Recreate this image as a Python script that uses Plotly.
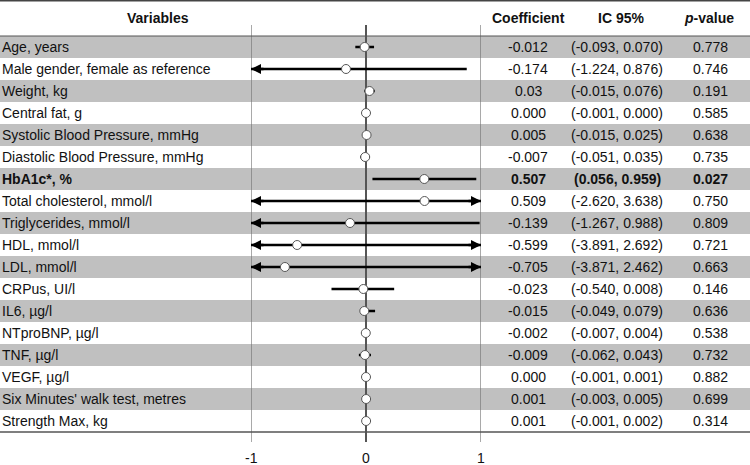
import plotly.graph_objects as go

# ---------------- data ----------------
variables = ["Age, years", "Male gender, female as reference", "Weight, kg", "Central fat, g",
             "Systolic Blood Pressure, mmHg", "Diastolic Blood Pressure, mmHg", "HbA1c*, %",
             "Total cholesterol, mmol/l", "Triglycerides, mmol/l", "HDL, mmol/l", "LDL, mmol/l",
             "CRPus, UI/l", "IL6, µg/l", "NTproBNP, µg/l", "TNF, µg/l", "VEGF, µg/l",
             "Six Minutes' walk test, metres", "Strength Max, kg"]
coefficient = [-0.012, -0.174, 0.03, 0.000, 0.005, -0.007, 0.507, 0.509, -0.139, -0.599,
               -0.705, -0.023, -0.015, -0.002, -0.009, 0.000, 0.001, 0.001]
coef_labels = ["-0.012", "-0.174", "0.03", "0.000", "0.005", "-0.007", "0.507", "0.509", "-0.139",
               "-0.599", "-0.705", "-0.023", "-0.015", "-0.002", "-0.009", "0.000", "0.001", "0.001"]
ci_labels = ["(-0.093, 0.070)", "(-1.224, 0.876)", "(-0.015, 0.076)", "(-0.001, 0.000)",
             "(-0.015, 0.025)", "(-0.051, 0.035)", "(0.056, 0.959)", "(-2.620, 3.638)",
             "(-1.267, 0.988)", "(-3.891, 2.692)", "(-3.871, 2.462)", "(-0.540, 0.008)",
             "(-0.049, 0.079)", "(-0.007, 0.004)", "(-0.062, 0.043)", "(-0.001, 0.001)",
             "(-0.003, 0.005)", "(-0.001, 0.002)"]
# CI bounds as drawn in the plot
ci_low = [-0.093, -1.224, -0.015, -0.001, -0.015, -0.051, 0.056, -2.620, -1.267, -3.891,
          -3.871, -0.30, -0.049, -0.007, -0.062, -0.001, -0.003, -0.001]
ci_high = [0.070, 0.876, 0.076, 0.000, 0.025, 0.035, 0.959, 3.638, 0.988, 2.692,
           2.462, 0.245, 0.079, 0.004, 0.043, 0.001, 0.005, 0.002]
p_values = ["0.778", "0.746", "0.191", "0.585", "0.638", "0.735", "0.027", "0.750", "0.809",
            "0.721", "0.663", "0.146", "0.636", "0.538", "0.732", "0.882", "0.699", "0.314"]
tick_values = [-1, 0, 1]
tick_labels = ["-1", "0", "1"]
headers = ["Variables", "Coefficient", "IC 95%", "<i>p</i>-value"]

# ---------------- layout constants ----------------
W, H = 750, 465
FONT = "Liberation Sans, Arial, sans-serif"
XMIN, XMAX = -1, 1
n = len(variables)
rows = list(range(n))
row_px0, row_h = 47.0, 22.0
y_top = -row_px0 / row_h
y_bot = (H - row_px0) / row_h

fig = go.Figure()

shapes = []
# alternating grey bands
for i in rows:
    if i % 2 == 0:
        shapes.append(dict(type="rect", xref="paper", yref="y", x0=0, x1=1,
                           y0=i - 0.5, y1=i + 0.5, fillcolor="#c0c0c0",
                           line=dict(width=0), layer="below"))
# vertical reference lines
for v in tick_values:
    shapes.append(dict(type="line", xref="x", yref="y", x0=v, x1=v,
                       y0=-1.0, y1=n - 0.5 + 0.45,
                       line=dict(color="#555555" if v == 0 else "#707070",
                                 width=2 if v == 0 else 1.2), layer="below"))
# horizontal rules
shapes.append(dict(type="line", xref="paper", yref="paper", x0=0, x1=1, y0=1 - 0.8 / H, y1=1 - 0.8 / H,
                   line=dict(color="#444444", width=1.6)))
shapes.append(dict(type="line", xref="paper", yref="y", x0=0, x1=1, y0=-0.5, y1=-0.5,
                   line=dict(color="#555555", width=1)))
shapes.append(dict(type="line", xref="paper", yref="y", x0=0, x1=1, y0=n - 0.5, y1=n - 0.5,
                   line=dict(color="#555555", width=1.6)))

# CI lines (clipped to axis range)
lx, ly = [], []
for i in rows:
    lx += [max(ci_low[i], XMIN), min(ci_high[i], XMAX), None]
    ly += [i, i, None]
fig.add_trace(go.Scatter(x=lx, y=ly, mode="lines", line=dict(color="black", width=2.5),
                         hoverinfo="skip", showlegend=False, cliponaxis=False))
# point estimates
fig.add_trace(go.Scatter(x=coefficient, y=rows, mode="markers",
                         marker=dict(size=9, color="white", line=dict(color="#555555", width=1)),
                         showlegend=False, cliponaxis=False))

annotations = []
# arrowheads for truncated CIs
for i in rows:
    if ci_low[i] < XMIN:
        annotations.append(dict(x=XMIN, y=i, xref="x", yref="y", ax=14, ay=0, text="",
                                showarrow=True, arrowhead=2, arrowsize=0.8, arrowwidth=2.5,
                                arrowcolor="black", standoff=0))
    if ci_high[i] > XMAX:
        annotations.append(dict(x=XMAX, y=i, xref="x", yref="y", ax=-14, ay=0, text="",
                                showarrow=True, arrowhead=2, arrowsize=0.8, arrowwidth=2.5,
                                arrowcolor="black", standoff=0))

font = dict(family=FONT, size=14, color="#111111")
# headers
header_x = [158, 528, 621, 709]
for hx, ht in zip(header_x, headers):
    annotations.append(dict(x=hx / W, y=-1.3, xref="paper", yref="y", text="<b>" + ht + "</b>",
                            showarrow=False, xanchor="center", yanchor="middle", font=font))
# table rows
col_x = [528, 617, 710]
for i in rows:
    bold = float(p_values[i]) < 0.05
    def fmt(s):
        return "<b>" + s + "</b>" if bold else s
    annotations.append(dict(x=0, y=i, xref="paper", yref="y", text=fmt(variables[i]),
                            showarrow=False, xanchor="left", yanchor="middle", font=font))
    for cx, txt in zip(col_x, [coef_labels[i], ci_labels[i], p_values[i]]):
        annotations.append(dict(x=cx / W, y=i, xref="paper", yref="y", text=fmt(txt),
                                showarrow=False, xanchor="center", yanchor="middle", font=font))
# tick labels
for tv, tl in zip(tick_values, tick_labels):
    annotations.append(dict(x=tv, y=n + 0.66, xref="x", yref="y", text=tl, showarrow=False,
                            xanchor="center", yanchor="middle", font=font))

fig.update_layout(
    width=W, height=H, margin=dict(l=0, r=0, t=0, b=0),
    paper_bgcolor="white", plot_bgcolor="rgba(0,0,0,0)",
    xaxis=dict(domain=[251 / W, 481 / W], range=[XMIN, XMAX], visible=False, fixedrange=True),
    yaxis=dict(domain=[0, 1], range=[y_bot, y_top], visible=False, fixedrange=True),
    shapes=shapes, annotations=annotations, showlegend=False,
)

fig.write_html("out.html", config={"displayModeBar": False},
               post_script="document.body.style.margin='0';document.body.style.overflow='hidden';")
